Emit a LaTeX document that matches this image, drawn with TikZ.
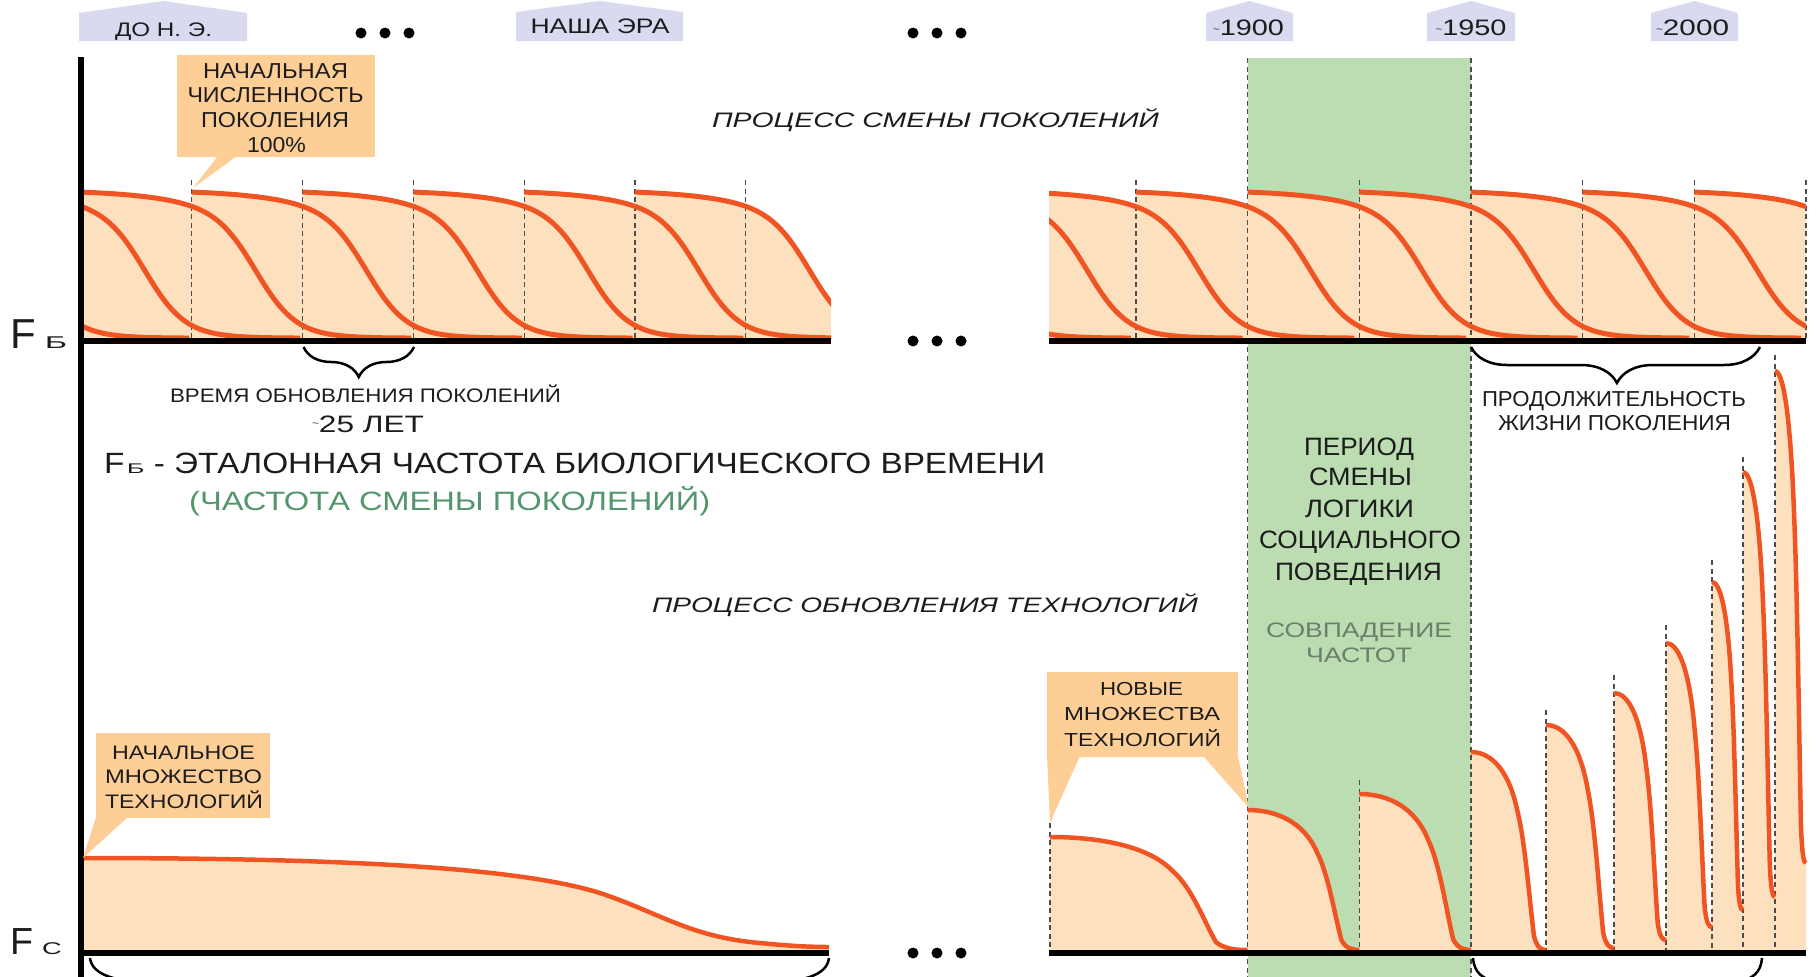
\documentclass[tikz,border=0pt]{standalone}
\usepackage{fontspec}
\setmainfont{Liberation Sans}
\usepackage{graphicx}
\usepackage{xfp}
\usetikzlibrary{decorations.pathreplacing}

\definecolor{peach}{RGB}{253,224,190}
\definecolor{calloutc}{RGB}{253,207,150}
\definecolor{orng}{RGB}{240,84,35}
\definecolor{lav}{RGB}{217,217,239}
\definecolor{bandc}{RGB}{187,221,177}
\definecolor{grtext}{RGB}{84,150,108}
\definecolor{grgray}{RGB}{104,128,108}
\definecolor{dk}{RGB}{28,28,28}

\newlength\fitlen
\newcommand\fitline[3]{{\edef\fitsz{\fpeval{#2/0.716}}\fontsize{\fitsz}{\fitsz}\selectfont\settowidth\fitlen{#3}\edef\fitsc{\fpeval{#1/(\the\fitlen)}}\scalebox{\fitsc}[1]{#3}}}
\newcommand\tld[1]{\raisebox{#1}{\fontsize{9}{9}\selectfont\textasciitilde}}

\newcommand\spikefill[4]{\fill[peachfill] (#1,953) -- (#1,#2) .. controls ({#1+0.25*(#3-#1)},#2) and ({#1+0.5*(#3-#1)},{#2+0.08*(#4-#2)}) .. ({#1+0.62*(#3-#1)},{#2+0.3*(#4-#2)}) .. controls ({#1+0.72*(#3-#1)},{#2+0.45*(#4-#2)}) and ({#1+0.78*(#3-#1)},{#2+0.75*(#4-#2)}) .. ({#1+0.84*(#3-#1)},{#2+0.93*(#4-#2)}) .. controls ({#1+0.88*(#3-#1)},{#2+0.99*(#4-#2)}) and ({#1+0.94*(#3-#1)},#4) .. (#3,#4) -- (#3,953) -- cycle;}
\newcommand\spikedraw[4]{\draw[spkcurve] (#1,#2) .. controls ({#1+0.25*(#3-#1)},#2) and ({#1+0.5*(#3-#1)},{#2+0.08*(#4-#2)}) .. ({#1+0.62*(#3-#1)},{#2+0.3*(#4-#2)}) .. controls ({#1+0.72*(#3-#1)},{#2+0.45*(#4-#2)}) and ({#1+0.78*(#3-#1)},{#2+0.75*(#4-#2)}) .. ({#1+0.84*(#3-#1)},{#2+0.93*(#4-#2)}) .. controls ({#1+0.88*(#3-#1)},{#2+0.99*(#4-#2)}) and ({#1+0.94*(#3-#1)},#4) .. (#3,#4);}

\tikzset{
  declare function={gen(\u)=190.3+148*(0.85/(1+exp(-(\u-175)/20))+0.15/(1+exp(-(\u-110)/45)));},
  peachfill/.style={fill=peach},
  gencurve/.style={draw=orng, line width=5pt, line join=round},
  spkcurve/.style={draw=orng, line width=4.5pt, line join=round},
  dashln/.style={draw=black!70, line width=1.2pt, dash pattern=on 5pt off 3.5pt},
  axisln/.style={draw=black, line width=5.5pt},
  lblbox/.style={fill=lav},
  cfill/.style={fill=calloutc},
  txt/.style={anchor=base, inner sep=0pt, text=dk},
  bracetl/.style={draw=black, line width=2.5pt, decorate, decoration={brace, mirror, amplitude=30pt}},
  bracetr/.style={draw=black, line width=2.5pt, decorate, decoration={brace, mirror, amplitude=36pt, aspect=0.505}},
  bracebot/.style={draw=black, line width=2.5pt},
  dotc/.style={fill=black}
}

\begin{document}
\begin{tikzpicture}[x=1pt,y=-1pt]
\useasboundingbox (0,0) rectangle (1818,977);

% green band
\fill[fill=bandc] (1247.6,58) rectangle (1471,977);

% ---- top-left generations: fills
\begin{scope}
\clip (81,150) rectangle (831,341);
\foreach \k in {-2,...,5}{
  \pgfmathsetmacro\xo{81+110.8*\k}
  \fill[peachfill] plot[domain=0:330,samples=100] ({\xo+\x},{gen(\x)}) -- ({\xo+330},341) -- (\xo,341) -- cycle;
}
\end{scope}
% ---- top-right generations: fills
\begin{scope}
\clip (1049,150) rectangle (1806,341);
\foreach \k in {-2,...,6}{
  \pgfmathsetmacro\xo{1024.3+111.67*\k}
  \fill[peachfill] plot[domain=0:330,samples=100] ({\xo+\x},{gen(\x)}) -- ({\xo+330},341) -- (\xo,341) -- cycle;
}
\end{scope}

% ---- bottom-left fill
\fill[peachfill] (81,953) -- (81,858) .. controls (350,858) and (520,868) .. (600,893) .. controls (660,913) and (690,937) .. (760,943) .. controls (790,946) and (810,947) .. (829,947) -- (829,953) -- cycle;

% ---- bottom-right spikes fills
\spikefill{1050}{837}{1247.6}{950}
\spikefill{1247.6}{810}{1359.3}{950}
\spikefill{1359.3}{794}{1471}{950}
\spikefill{1471}{752}{1546}{950}
\spikefill{1546}{725}{1614}{948}
\spikefill{1614}{693}{1666}{940}
\spikefill{1666}{643}{1712}{927}
\spikefill{1712}{582}{1743}{910}
\spikefill{1743}{472}{1775}{897}
\spikefill{1775}{371}{1806}{863}

% ---- dashed lines
\foreach \xx in {191.8,302.6,413.4,524.2,635,745.8,1136,1359.3,1582.6,1694.3,1806}
  \draw[dashln] (\xx,180) -- (\xx,341);
\draw[dashln] (1247.6,58) -- (1247.6,977);
\draw[dashln] (1471,58) -- (1471,977);
\draw[dashln] (1050,823) -- (1050,953);
\draw[dashln] (1359.3,780) -- (1359.3,953);
\draw[dashln] (1546,710) -- (1546,953);
\draw[dashln] (1614,675) -- (1614,953);
\draw[dashln] (1666,625) -- (1666,953);
\draw[dashln] (1712,560) -- (1712,953);
\draw[dashln] (1743,457) -- (1743,953);
\draw[dashln] (1775,355) -- (1775,953);

% ---- curves top-left
\begin{scope}
\clip (81,150) rectangle (831,341);
\foreach \k in {-2,...,5}{
  \pgfmathsetmacro\xo{81+110.8*\k}
  \draw[gencurve] plot[domain=0:330,samples=100] ({\xo+\x},{gen(\x)});
}
\end{scope}
\begin{scope}
\clip (1049,150) rectangle (1806,341);
\foreach \k in {-2,...,6}{
  \pgfmathsetmacro\xo{1024.3+111.67*\k}
  \draw[gencurve] plot[domain=0:330,samples=100] ({\xo+\x},{gen(\x)});
}
\end{scope}

% ---- bottom-left curve
\draw[spkcurve] (81,858) .. controls (350,858) and (520,868) .. (600,893) .. controls (660,913) and (690,937) .. (760,943) .. controls (790,946) and (810,947) .. (829,947);

% ---- bottom-right spike curves
\spikedraw{1050}{837}{1247.6}{950}
\spikedraw{1247.6}{810}{1359.3}{950}
\spikedraw{1359.3}{794}{1471}{950}
\spikedraw{1471}{752}{1546}{950}
\spikedraw{1546}{725}{1614}{948}
\spikedraw{1614}{693}{1666}{940}
\spikedraw{1666}{643}{1712}{927}
\spikedraw{1712}{582}{1743}{910}
\spikedraw{1743}{472}{1775}{897}
\spikedraw{1775}{371}{1806}{863}

% ---- axes
\draw[axisln] (81,57) -- (81,977);
\draw[axisln] (81,341) -- (831,341);
\draw[axisln] (1049,341) -- (1806,341);
\draw[axisln] (81,953) -- (829,953);
\draw[axisln] (1049,953) -- (1806,953);

% ---- callouts
\fill[cfill] (177,55) rectangle (375,157);
\fill[cfill] (218,156) -- (237,156) -- (193,188) -- cycle;
\fill[cfill] (96,733) rectangle (270,818);
\fill[cfill] (96,817) -- (128,817) -- (83,858) -- cycle;
\fill[cfill] (1047,672) rectangle (1238,757);
\fill[cfill] (1047,756) -- (1080,756) -- (1050,823) -- cycle;
\fill[cfill] (1203,756) -- (1238,756) -- (1249,808) -- cycle;

% ---- top labels
\fill[lblbox] (79,41) -- (79,13) -- (163,1) -- (247,13) -- (247,41) -- cycle;
\fill[lblbox] (516,41) -- (516,12) -- (599.5,1) -- (683,12) -- (683,41) -- cycle;
\fill[lblbox] (1206,41) -- (1206,13) -- (1249.5,1) -- (1293,13) -- (1293,41) -- cycle;
\fill[lblbox] (1427,41) -- (1427,13) -- (1471,1) -- (1515,13) -- (1515,41) -- cycle;
\fill[lblbox] (1651,41) -- (1651,13) -- (1694.5,1) -- (1738,13) -- (1738,41) -- cycle;
\node[txt] (tDO) at (163.5,36) {\fitline{97}{14}{ДО Н. Э.}};
\node[txt] (tNE) at (600,34) {\fitline{139}{15}{НАША ЭРА}};
\node[txt] (t1900) at (1248.5,35) {\fitline{71}{16}{\tld{3pt}1900}};
\node[txt] (t1950) at (1471,35) {\fitline{71}{16}{\tld{3pt}1950}};
\node[txt] (t2000) at (1692.5,35) {\fitline{73}{16}{\tld{3pt}2000}};

% ---- dots
\foreach \xx in {361,385,409} \fill[dotc] (\xx,33) circle (5.5);
\foreach \xx in {913,937,961} {\fill[dotc] (\xx,33) circle (5.5); \fill[dotc] (\xx,341) circle (5.5); \fill[dotc] (\xx,953) circle (5.5);}

% ---- callout texts
\node[txt] (c1a) at (275.5,78) {\fitline{145}{15.5}{НАЧАЛЬНАЯ}};
\node[txt] (c1b) at (275.5,102) {\fitline{176}{15.5}{ЧИСЛЕННОСТЬ}};
\node[txt] (c1c) at (275,127) {\fitline{148}{15.5}{ПОКОЛЕНИЯ}};
\node[txt] (c1d) at (276.5,152) {\fitline{59}{15.5}{100\%}};

\node[txt] (c3a) at (183.5,759) {\fitline{143}{14}{НАЧАЛЬНОЕ}};
\node[txt] (c3b) at (183.5,783) {\fitline{157}{14}{МНОЖЕСТВО}};
\node[txt] (c3c) at (184,808) {\fitline{158}{14}{ТЕХНОЛОГИЙ}};

\node[txt] (c2a) at (1141.5,695) {\fitline{83}{13.5}{НОВЫЕ}};
\node[txt] (c2b) at (1142,720) {\fitline{156}{13.5}{МНОЖЕСТВА}};
\node[txt] (c2c) at (1142.5,746) {\fitline{157}{13.5}{ТЕХНОЛОГИЙ}};

% ---- titles
\node[txt] (proc1) at (935.5,127) {\fitline{447}{15}{\itshape ПРОЦЕСС СМЕНЫ ПОКОЛЕНИЙ}};
\node[txt] (proc2) at (925,612) {\fitline{546}{15}{\itshape ПРОЦЕСС ОБНОВЛЕНИЯ ТЕХНОЛОГИЙ}};
\node[txt] (vrem) at (365.5,402) {\fitline{391}{14}{ВРЕМЯ ОБНОВЛЕНИЯ ПОКОЛЕНИЙ}};
\node[txt] (let) at (368,432) {\fitline{112}{17}{\tld{6pt}25 ЛЕТ}};
\node[txt, anchor=base west] (etal) at (104,473) {\fitline{941}{21}{F\hspace{2pt}\scalebox{1.7}[1]{\fontsize{14}{14}\selectfont Б} - ЭТАЛОННАЯ ЧАСТОТА БИОЛОГИЧЕСКОГО ВРЕМЕНИ}};
\node[txt, anchor=base west, text=grtext] (chast) at (189,510) {\fitline{521}{19}{(ЧАСТОТА СМЕНЫ ПОКОЛЕНИЙ)}};

% ---- band texts
\node[txt] (b1) at (1359,455) {\fitline{110}{18}{ПЕРИОД}};
\node[txt] (b2) at (1360.5,485) {\fitline{103}{18}{СМЕНЫ}};
\node[txt] (b3) at (1359.5,517) {\fitline{109}{18}{ЛОГИКИ}};
\node[txt] (b4) at (1360,548) {\fitline{202}{18}{СОЦИАЛЬНОГО}};
\node[txt] (b5) at (1358.5,580) {\fitline{167}{18}{ПОВЕДЕНИЯ}};
\node[txt, text=grgray] (b6) at (1359,637) {\fitline{186}{15}{СОВПАДЕНИЕ}};
\node[txt, text=grgray] (b7) at (1359,662) {\fitline{106}{15}{ЧАСТОТ}};

\node[txt] (p1) at (1614,406) {\fitline{264}{15.5}{ПРОДОЛЖИТЕЛЬНОСТЬ}};
\node[txt] (p2) at (1614.5,430) {\fitline{233}{15.5}{ЖИЗНИ ПОКОЛЕНИЯ}};

% ---- axis labels
\node[txt, anchor=base west] (fb) at (10,348) {\fontsize{41.9}{42}\selectfont F\hspace{9pt}\scalebox{2.0}[1]{\fontsize{17}{17}\selectfont Б}};
\node[txt, anchor=base west] (fc) at (10,954) {\fontsize{37.7}{38}\selectfont F\hspace{9pt}\scalebox{1.6}[1]{\fontsize{17}{17}\selectfont С}};

% ---- braces
\draw[bracetl] (303.5,347) -- (414,347);
\draw[bracetr] (1471,347) -- (1760,347);
\draw[bracebot] (90,958) .. controls (92,975) and (115,982) .. (160,984) -- (760,984) .. controls (805,982) and (827,975) .. (829,958);
\draw[bracebot] (1473,958) .. controls (1474,972) and (1482,980) .. (1500,982) -- (1735,982) .. controls (1753,980) and (1761,972) .. (1762,958);

\end{tikzpicture}
\end{document}
